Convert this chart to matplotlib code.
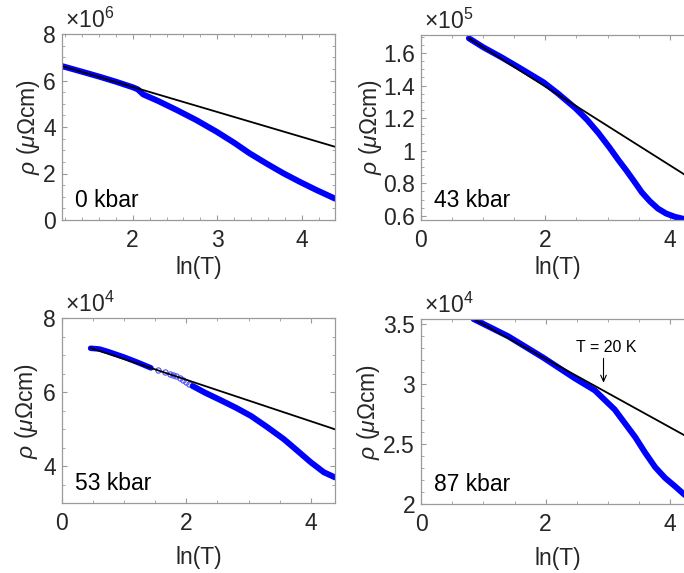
import matplotlib.pyplot as plt
from matplotlib.ticker import MultipleLocator

plt.rcParams['font.family'] = ['Liberation Sans', 'DejaVu Sans']
plt.rcParams['mathtext.fontset'] = 'custom'
plt.rcParams['mathtext.rm'] = 'Liberation Sans'
plt.rcParams['mathtext.it'] = 'Liberation Sans:italic'

# data: x = ln(T), rho in units of the axis multiplier
# 0 kbar (x10^6)
x0 = [1.165, 1.4, 1.62, 1.8, 2.0, 2.06, 2.125, 2.3, 2.52, 2.75, 2.99, 3.2, 3.38, 3.58, 3.78, 3.98, 4.17, 4.39]
rho0 = [6.62, 6.38, 6.15, 5.95, 5.71, 5.62, 5.40, 5.12, 4.73, 4.30, 3.80, 3.32, 2.87, 2.43, 2.01, 1.63, 1.29, 0.92]
fit0_x = [1.165, 4.39]
fit0_rho = [6.62, 3.15]

# 43 kbar (x10^5)
x43 = [0.77, 1.0, 1.3, 1.6, 1.97, 2.2, 2.48, 2.67, 2.85, 3.03, 3.18, 3.30, 3.45, 3.55, 3.68, 3.81, 3.94, 4.08, 4.22, 4.39]
rho43 = [1.69, 1.635, 1.572, 1.505, 1.42, 1.352, 1.262, 1.19, 1.11, 1.02, 0.94, 0.88, 0.80, 0.745, 0.69, 0.645, 0.615, 0.595, 0.582, 0.577]
fit43_x = [0.77, 4.39]
fit43_rho = [1.69, 0.817]

# 53 kbar (x10^4)
x53 = [0.46, 0.6, 0.74, 1.0, 1.2, 1.43]
rho53 = [7.19, 7.17, 7.10, 6.95, 6.82, 6.66]
x53_sparse = [1.54, 1.65, 1.73, 1.78, 1.83, 1.89, 1.94, 2.00, 2.05]
rho53_sparse = [6.61, 6.54, 6.50, 6.48, 6.43, 6.39, 6.34, 6.28, 6.23]
x53_hi = [2.1, 2.3, 2.56, 2.8, 3.04, 3.3, 3.57, 3.8, 4.0, 4.21, 4.39]
rho53_hi = [6.17, 5.99, 5.78, 5.58, 5.36, 5.06, 4.73, 4.40, 4.11, 3.84, 3.70]
fit53_x = [0.46, 4.39]
fit53_rho = [7.2, 5.0]

# 87 kbar (x10^4)
x87 = [0.84, 1.4, 1.97, 2.47, 2.79, 3.11, 3.44, 3.6, 3.76, 3.92, 4.08, 4.21, 4.39]
rho87 = [3.545, 3.40, 3.22, 3.05, 2.95, 2.79, 2.56, 2.43, 2.31, 2.22, 2.15, 2.09, 2.01]
fit87_x = [0.84, 4.39]
fit87_rho = [3.545, 2.53]

W, H = 684, 573
FS = 16.5
fig = plt.figure(figsize=(W / 100, H / 100), dpi=100)


def make_axes(left, top, width, height):
    return fig.add_axes([left / W, 1 - (top + height) / H, width / W, height / H])


def style(ax, xlim, ylim, xmaj, xmin, ymaj, ymin, expo, pressure, ylab_x, xlab_pad):
    ax.set_xlim(xlim)
    ax.set_ylim(ylim)
    ax.xaxis.set_major_locator(MultipleLocator(xmaj))
    ax.xaxis.set_minor_locator(MultipleLocator(xmin))
    ax.yaxis.set_major_locator(MultipleLocator(ymaj))
    ax.yaxis.set_minor_locator(MultipleLocator(ymin))
    ax.xaxis.set_major_formatter(plt.FuncFormatter(lambda v, p: '%g' % round(v, 3)))
    ax.yaxis.set_major_formatter(plt.FuncFormatter(lambda v, p: '%g' % round(v, 3)))
    for s in ax.spines.values():
        s.set_color('#9a9a9a')
        s.set_linewidth(0.9)
    ax.tick_params(which='both', direction='in', top=True, right=True,
                   color='#9a9a9a', labelcolor='#262626', labelsize=FS)
    ax.tick_params(which='major', length=3.5, width=0.8)
    ax.tick_params(which='minor', length=2, width=0.6)
    ax.tick_params(axis='x', pad=6.5)
    ax.tick_params(axis='y', pad=4.5)
    ax.set_xlabel('ln(T)', fontsize=FS, labelpad=xlab_pad, color='#262626')
    ax.set_ylabel(r'$\rho$ ($\mu\Omega$cm)', fontsize=FS, color='#262626', va='center')
    ax.yaxis.set_label_coords(ylab_x, 0.5)
    ax.text(0.01, 1.008, r'$\times10^{%d}$' % expo, transform=ax.transAxes,
            fontsize=FS, va='bottom', ha='left', color='#262626')
    ax.text(0.046, 0.072, pressure, transform=ax.transAxes, fontsize=FS,
            va='baseline', ha='left', color='black')


blue = (0, 0, 1)

ax1 = make_axes(62, 34, 273, 186)
ax1.plot(x0, rho0, color=blue, lw=4.3, solid_capstyle='round')
ax1.plot(fit0_x, fit0_rho, color='black', lw=1.3)
style(ax1, (1.165, 4.39), (0, 8), 1, 0.2, 2, 0.5, 6, '0 kbar', -0.123, 3)

ax2 = make_axes(421, 35, 273, 185)
ax2.plot(x43, rho43, color=blue, lw=4.3, solid_capstyle='round')
ax2.plot(fit43_x, fit43_rho, color='black', lw=1.3)
style(ax2, (0, 4.39), (0.575, 1.71), 2, 0.5, 0.2, 0.05, 5, '43 kbar', -0.186, 3)

ax3 = make_axes(62, 318.3, 273, 185)
ax3.plot(x53, rho53, color=blue, lw=4.0, solid_capstyle='round')
ax3.plot(x53_sparse, rho53_sparse, 'o', mfc='none', mec=(0.3, 0.3, 1.0), mew=0.8, ms=3.8)
ax3.plot(x53_hi, rho53_hi, color=blue, lw=4.3, solid_capstyle='round')
ax3.plot(fit53_x, fit53_rho, color='black', lw=1.3)
style(ax3, (0, 4.39), (3, 8), 2, 0.5, 2, 0.5, 4, '53 kbar', -0.129, 8)

ax4 = make_axes(421.3, 319, 273, 185.3)
ax4.plot(x87, rho87, color=blue, lw=4.3, solid_capstyle='round')
ax4.plot(fit87_x, fit87_rho, color='black', lw=1.3)
ax4.annotate('', xy=(2.93, 2.99), xytext=(2.93, 3.24),
             arrowprops=dict(arrowstyle='->,head_length=0.45,head_width=0.2', lw=0.8, color='black'))
ax4.text(2.98, 3.31, 'T = 20 K', fontsize=11.5, ha='center', va='center')
style(ax4, (0, 4.39), (2.0, 3.545), 2, 0.5, 0.5, 0.1, 4, '87 kbar', -0.193, 8)

fig.savefig('out.png', dpi=100)
